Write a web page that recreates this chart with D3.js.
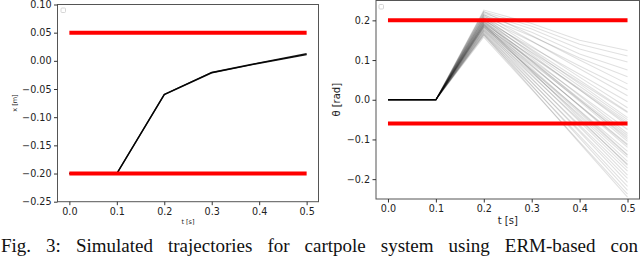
<!DOCTYPE html>
<html>
<head>
<meta charset="utf-8">
<script src="https://cdn.jsdelivr.net/npm/d3@7"></script>
<style>
  body { margin: 0; background: #fff; }
  .ax text { font-family: "DejaVu Sans", sans-serif; fill: #222; }
</style>
</head>
<body>
<script>
// Data.
const tSteps = [0, 0.1, 0.2, 0.3, 0.4, 0.5];
const tTicks = [0, 0.1, 0.2, 0.3, 0.4, 0.5];

const xTicks = [0.10, 0.05, 0.00, -0.05, -0.10, -0.15, -0.20, -0.25];
const xBounds = [0.05, -0.20];
const xTraj = [
  [-0.20, -0.20, -0.0596, -0.0206, -0.0035, 0.0125],
  [-0.20, -0.20, -0.0600, -0.0212, -0.0042, 0.0110]
];

const thetaTicks = [0.2, 0.1, 0.0, -0.1, -0.2];
const thetaBounds = [0.20, -0.06];
// theta at t = 0.2, 0.3, 0.4, 0.5 (it stays 0 until t = 0.1)
const thetaTraj = [
  [0.226, 0.192, 0.150, 0.124],
  [0.222, 0.185, 0.140, 0.110],
  [0.218, 0.178, 0.128, 0.095],
  [0.214, 0.170, 0.115, 0.075],
  [0.210, 0.160, 0.105, 0.058],
  [0.222, 0.162, 0.100, 0.040],
  [0.206, 0.147, 0.085, 0.025],
  [0.215, 0.148, 0.078, 0.010],
  [0.200, 0.132, 0.064, -0.005],
  [0.212, 0.135, 0.057, -0.020],
  [0.196, 0.120, 0.044, -0.032],
  [0.208, 0.124, 0.040, -0.045],
  [0.192, 0.110, 0.028, -0.055],
  [0.204, 0.114, 0.025, -0.065],
  [0.188, 0.100, 0.013, -0.075],
  [0.200, 0.105, 0.010, -0.085],
  [0.185, 0.092, -0.001, -0.095],
  [0.196, 0.096, -0.004, -0.105],
  [0.182, 0.084, -0.014, -0.112],
  [0.192, 0.088, -0.016, -0.120],
  [0.178, 0.075, -0.027, -0.130],
  [0.188, 0.079, -0.029, -0.138],
  [0.175, 0.068, -0.038, -0.145],
  [0.184, 0.071, -0.042, -0.155],
  [0.172, 0.061, -0.051, -0.162],
  [0.180, 0.063, -0.055, -0.172],
  [0.168, 0.052, -0.064, -0.180],
  [0.176, 0.054, -0.068, -0.190],
  [0.165, 0.044, -0.077, -0.198],
  [0.172, 0.045, -0.081, -0.208],
  [0.162, 0.035, -0.091, -0.218],
  [0.168, 0.036, -0.096, -0.228],
  [0.158, 0.026, -0.106, -0.238],
  [0.164, 0.028, -0.109, -0.245],
  [0.194, 0.109, 0.025, -0.060],
  [0.190, 0.097, 0.003, -0.090],
  [0.186, 0.086, -0.015, -0.115],
  [0.198, 0.099, 0.000, -0.100],
  [0.183, 0.075, -0.033, -0.140],
  [0.202, 0.118, 0.034, -0.050],
  [0.190, 0.072, -0.047, -0.165],
  [0.206, 0.127, 0.049, -0.030]
];

const caption = "Fig. 3: Simulated trajectories for cartpole system using ERM-based con";

const width = 640, height = 257;
const svg = d3.select("body").append("svg")
    .attr("width", width)
    .attr("height", height);

// One matplotlib-like panel.
function panel(opt) {
  const x = d3.scaleLinear().domain([-0.025, 0.525]).range(opt.xr);
  const y = d3.scaleLinear().domain(opt.yd).range(opt.yr);
  const g = svg.append("g").attr("class", "ax");

  // frame
  g.append("rect")
      .attr("x", opt.xr[0]).attr("y", opt.yr[1])
      .attr("width", opt.xr[1] - opt.xr[0])
      .attr("height", opt.yr[0] - opt.yr[1])
      .attr("fill", "none")
      .attr("stroke", "#555")
      .attr("stroke-width", 1);

  const line = d3.line().x(d => x(d[0])).y(d => y(d[1]));

  g.selectAll(".traj")
    .data(opt.traj)
    .enter().append("path")
      .attr("class", "traj")
      .attr("d", d => line(tSteps.map((t, i) => [t, d[i]])))
      .attr("fill", "none")
      .attr("stroke", "#000")
      .attr("stroke-opacity", opt.alpha)
      .attr("stroke-width", opt.lw);

  g.selectAll(".bound")
    .data(opt.bounds)
    .enter().append("line")
      .attr("x1", x(0)).attr("x2", x(0.5))
      .attr("y1", d => y(d)).attr("y2", d => y(d))
      .attr("stroke", "#ff0000")
      .attr("stroke-width", 4);

  // empty legend box
  g.append("rect")
      .attr("x", opt.xr[0] + opt.leg[0]).attr("y", opt.yr[1] + opt.leg[1])
      .attr("width", 4.5).attr("height", 4.5).attr("rx", 1)
      .attr("fill", "#fff").attr("stroke", "#ccc").attr("stroke-width", 0.8);

  const xAxis = g.append("g")
      .attr("transform", `translate(0,${opt.yr[0]})`)
      .call(d3.axisBottom(x).tickValues(tTicks).tickFormat(d3.format(".1f")).tickSize(3.5).tickPadding(2.5));
  const yAxis = g.append("g")
      .attr("transform", `translate(${opt.xr[0]},0)`)
      .call(d3.axisLeft(y).tickValues(opt.yt).tickFormat(d3.format(opt.yf)).tickSize(3.5).tickPadding(2.5));
  [xAxis, yAxis].forEach(a => {
    a.select(".domain").remove();
    a.selectAll("line").attr("stroke", "#333");
    a.selectAll("text").attr("font-size", opt.tickFont);
  });

  g.append("text")
      .attr("x", (x(0) + x(0.5)) / 2).attr("y", opt.xlabY)
      .attr("text-anchor", "middle")
      .attr("font-size", opt.labFont)
      .text("t [s]");
  g.append("text")
      .attr("transform", `translate(${opt.ylabX},${(opt.yr[0] + opt.yr[1]) / 2}) rotate(-90)`)
      .attr("text-anchor", "middle")
      .attr("font-size", opt.labFont)
      .text(opt.ylab);
}

panel({
  xr: [57.5, 318.5], yd: [-0.25, 0.10], yr: [201.7, 4.5],
  traj: xTraj, alpha: 0.9, lw: 1.4,
  bounds: xBounds, yt: xTicks, yf: ".2f",
  leg: [3.5, 3.5], tickFont: 9.6, labFont: 6.5,
  xlabY: 224, ylabX: 17, ylab: "x [m]"
});

panel({
  xr: [376, 639.5], yd: [-0.25, 0.25], yr: [199, 0.5],
  traj: thetaTraj.map(d => [0, 0].concat(d)), alpha: 0.12, lw: 1.1,
  bounds: thetaBounds, yt: thetaTicks, yf: ".1f",
  leg: [3, 4], tickFont: 9.6, labFont: 10,
  xlabY: 224, ylabX: 340, ylab: "θ [rad]"
});

// Caption, justified by widening the word gaps.
const cap = svg.append("text")
    .attr("x", 1).attr("y", 252)
    .style("font-family", "'Liberation Serif', 'Times New Roman', serif")
    .style("font-size", "19px")
    .style("fill", "#111")
    .text(caption);
const natural = cap.node().getComputedTextLength();
const gaps = caption.split(" ").length - 1;
cap.style("word-spacing", `${Math.max(0, (637 - natural) / gaps)}px`);
</script>
</body>
</html>
